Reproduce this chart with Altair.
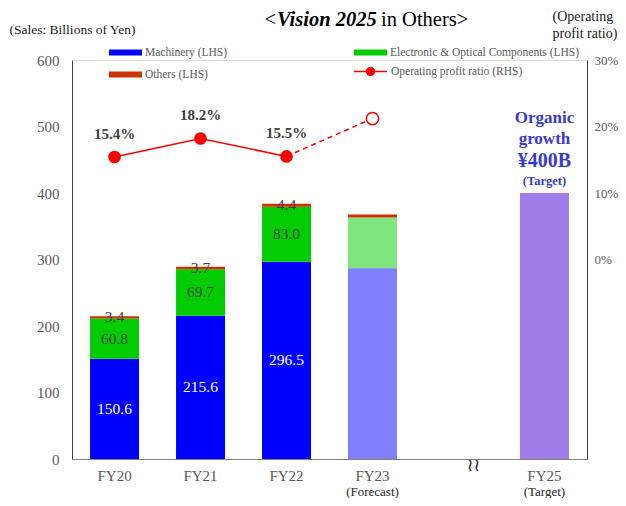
import altair as alt
import pandas as pd

# ---------------- data ----------------
years = ["FY20", "FY21", "FY22", "FY23"]
x_slots = ["FY20", "FY21", "FY22", "FY23", "FY24", "FY25"]
machinery = [150.6, 215.6, 296.5, 287.0]
electronic = [60.8, 69.7, 83.0, 76.0]
others = [3.4, 3.7, 4.4, 4.5]
target_year = "FY25"
target_value = 400
labeled_years = ["FY20", "FY21", "FY22"]
ratio = [15.4, 18.2, 15.5, 21.2]
series_names = ["Machinery (LHS)", "Electronic & Optical Components (LHS)", "Others (LHS)", "Target"]
series_colors = ["#0000FF", "#00CC00", "#CC3300", "#A07CE8"]
ratio_name = "Operating profit ratio (RHS)"
sub_label_years = ["FY23", "FY25"]
sub_label_texts = ["(Forecast)", "(Target)"]
organic_lines = ["Organic", "growth", "¥400B", "(Target)"]

FONT = "Liberation Serif"
W, H = 515, 399

# ---------------- tables ----------------
rows = []
for i, yr_ in enumerate(years):
    cum = 0.0
    for j, (s, v) in enumerate(zip(series_names[:3], [machinery[i], electronic[i], others[i]])):
        rows.append({"year": yr_, "series": s, "value": v, "order": j,
                     "mid": cum + v / 2, "label": f"{v:.1f}" if yr_ in labeled_years else "",
                     "forecast": yr_ == "FY23"})
        cum += v
rows.append({"year": target_year, "series": "Target", "value": target_value, "order": 0,
             "mid": target_value / 2, "label": "", "forecast": False})
bars_df = pd.DataFrame(rows)

ratio_df = pd.DataFrame({"year": years, "ratio": ratio, "name": ratio_name,
                         "txt": [f"{r}%" for r in ratio]})
sub_df = pd.DataFrame({"year": sub_label_years, "base": 0, "txt": sub_label_texts})
brk_df = pd.DataFrame({"year": ["FY24"], "base": [0], "txt": ["≀≀"]})
org_df = pd.DataFrame({"year": [target_year], "base": [target_value]})

# ---------------- encodings ----------------
x_enc = alt.X("year:N",
              scale=alt.Scale(domain=x_slots, paddingInner=0.43, paddingOuter=0.21),
              axis=alt.Axis(title=None, labelExpr="datum.value == 'FY24' ? '' : datum.value",
                            labelAngle=0, ticks=False, domainColor="#808080",
                            labelColor="#595959", labelFont=FONT, labelFontSize=15,
                            labelPadding=9))

left_axis = alt.Axis(title="(Sales: Billions of Yen)", titleAngle=0, titleX=-63, titleY=-27,
                     titleAlign="left", titleBaseline="alphabetic", titleFont=FONT,
                     titleFontSize=13.5, titleFontWeight="normal", titleColor="#1a1a1a",
                     values=[0, 100, 200, 300, 400, 500, 600], ticks=False, grid=False,
                     domainColor="#404040", labelColor="#595959", labelFont=FONT,
                     labelFontSize=15, labelPadding=13)
left_scale = alt.Scale(domain=[0, 600], nice=False)


def yl(field, stack=None):
    if stack is None:
        return alt.Y(field, scale=left_scale, axis=left_axis)
    return alt.Y(field, stack=stack, scale=left_scale, axis=left_axis)


right_axis = alt.Axis(orient="right", title=["(Operating", "profit ratio)"], titleAngle=0,
                      titleX=-35, titleY=-40, titleAlign="left", titleBaseline="alphabetic",
                      titleFont=FONT, titleFontSize=14, titleFontWeight="normal",
                      titleColor="#1a1a1a", titleLineHeight=17,
                      values=[0, 10, 20, 30], labelExpr="datum.value + '%'", ticks=False,
                      grid=False, domainColor="#404040", labelColor="#595959",
                      labelFont=FONT, labelFontSize=13, labelPadding=7)
right_scale = alt.Scale(domain=[-30, 30], nice=False)


def yr(field):
    return alt.Y(field, scale=right_scale, axis=right_axis)


# ---------------- left layers ----------------
bars = alt.Chart(bars_df).mark_bar().encode(
    x=x_enc,
    y=yl("value:Q", stack="zero"),
    order=alt.Order("order:Q"),
    color=alt.Color("series:N",
                    scale=alt.Scale(domain=series_names, range=series_colors),
                    legend=alt.Legend(title=None, orient="none", legendX=37, legendY=-24,
                                      direction="horizontal", columns=2, columnPadding=126,
                                      rowPadding=0, labelLimit=400,
                                      values=series_names[:3],
                                      symbolType="M-1,-0.18H1V0.18H-1Z", symbolSize=1089,
                                      symbolStrokeWidth=0, symbolOpacity=1,
                                      labelFont=FONT, labelFontSize=11.5,
                                      labelColor="#595959", labelOffset=3)),
    opacity=alt.condition("datum.forecast && datum.series != 'Others (LHS)'",
                          alt.value(0.5), alt.value(1)),
)

bar_text = alt.Chart(bars_df).transform_filter("datum.label != ''").mark_text(
    font=FONT, fontSize=15.5, baseline="middle").encode(
    x=x_enc,
    y=yl("mid:Q"),
    text="label:N",
    color=alt.condition("datum.series == 'Machinery (LHS)'", alt.value("white"),
                        alt.value("#404040")),
)

sub_text = alt.Chart(sub_df).mark_text(font=FONT, fontSize=13, color="#262626",
                                       baseline="middle", dy=33).encode(
    x=x_enc, y=yl("base:Q"), text="txt:N")

brk_text = alt.Chart(brk_df).mark_text(font="DejaVu Sans", fontSize=18, color="#262626",
                                       baseline="middle", dx=15, dy=7).encode(
    x=x_enc, y=yl("base:Q"), text="txt:N")

org_layers = []
for line, size, dy in zip(organic_lines, [17, 17, 20, 12.5], [-75, -54, -32, -12]):
    org_layers.append(
        alt.Chart(org_df).mark_text(font=FONT, fontSize=size, fontWeight="bold",
                                    color="#3A3AD0", baseline="middle", dy=dy, text=line)
        .encode(x=x_enc, y=yl("base:Q")))

title1 = alt.Chart(org_df).mark_text(font=FONT, fontSize=20.5, align="right",
                                     baseline="alphabetic", color="#000000", text="<").encode(
    x=alt.value(204), y=alt.value(-34))
title2 = alt.Chart(org_df).mark_text(font=FONT, fontSize=20.5, align="left",
                                     fontWeight="bold", fontStyle="italic",
                                     baseline="alphabetic", color="#000000",
                                     text="Vision 2025").encode(
    x=alt.value(205), y=alt.value(-34))
title3 = alt.Chart(org_df).mark_text(font=FONT, fontSize=20.5, align="left",
                                     baseline="alphabetic", color="#000000",
                                     text="in Others>").encode(
    x=alt.value(309), y=alt.value(-34))

left = alt.layer(bars, bar_text, sub_text, brk_text, *org_layers, title1, title2, title3)

# ---------------- right layers ----------------
solid = alt.Chart(ratio_df).transform_filter(
    alt.FieldOneOfPredicate(field="year", oneOf=labeled_years)).mark_line(strokeWidth=1.5).encode(
    x=x_enc, y=yr("ratio:Q"),
    stroke=alt.Stroke("name:N", scale=alt.Scale(domain=[ratio_name], range=["#FF0000"]),
                      legend=alt.Legend(title=None, orient="none", legendX=281, legendY=-6,
                                        symbolType="M-1,0H1M0.24,0A0.24,0.24,0,1,1,-0.24,0A0.24,0.24,0,1,1,0.24,0",
                                        symbolSize=1089, symbolStrokeWidth=1.5,
                                        symbolFillColor="#FF0000", labelLimit=400,
                                        labelFont=FONT, labelFontSize=11.5,
                                        labelColor="#595959", labelOffset=3)),
)
dashed = alt.Chart(ratio_df).transform_filter(
    alt.FieldOneOfPredicate(field="year", oneOf=["FY22", "FY23"])).mark_line(
    strokeWidth=1.5, strokeDash=[5, 4], color="#FF0000").encode(
    x=x_enc, y=yr("ratio:Q"))
pts = alt.Chart(ratio_df).transform_filter(
    alt.FieldOneOfPredicate(field="year", oneOf=labeled_years)).mark_point(
    shape="circle", filled=True, size=160, color="#FF0000", opacity=1).encode(
    x=x_enc, y=yr("ratio:Q"))
hollow = alt.Chart(ratio_df).transform_filter("datum.year == 'FY23'").mark_point(
    shape="circle", size=150, fill="white", stroke="#FF0000", strokeWidth=1.5,
    opacity=1, fillOpacity=1).encode(
    x=x_enc, y=yr("ratio:Q"))
pct = alt.Chart(ratio_df).transform_filter(
    alt.FieldOneOfPredicate(field="year", oneOf=labeled_years)).mark_text(
    font=FONT, fontSize=15, fontWeight="bold", color="#404040", baseline="middle",
    dy=-23).encode(
    x=x_enc, y=yr("ratio:Q"), text="txt:N")

right = alt.layer(solid, dashed, pts, hollow, pct)

chart = alt.layer(left, right).resolve_scale(y="independent").properties(
    width=W, height=H,
    autosize=alt.AutoSizeParams(type="none"),
    padding={"left": 64, "top": 52, "right": 31, "bottom": 39},
).configure_view(stroke=None).configure(font=FONT)

chart.save("out.html", embed_options={"renderer": "svg", "actions": False})
